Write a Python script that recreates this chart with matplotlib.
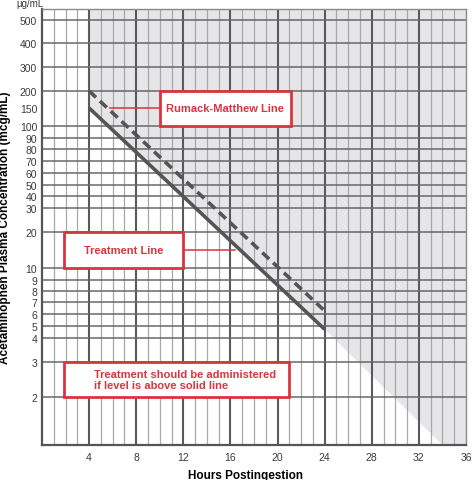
import numpy as np
import matplotlib
matplotlib.use("Agg")
import matplotlib.pyplot as plt
from matplotlib.patches import Rectangle

plt.rcParams['font.family'] = ['Liberation Sans', 'DejaVu Sans']

# ---------------- data ----------------
hour_ticks = [4, 8, 12, 16, 20, 24, 28, 32, 36]
conc_tick_labels = [2, 3, 4, 5, 6, 7, 8, 9, 10, 20, 30, 40, 50, 60, 70, 80, 90, 100, 150, 200, 300, 400, 500]
conc_grid_values = [2, 3, 4, 5, 6, 7, 8, 9, 10, 20, 30, 40, 50, 60, 70, 80, 90, 100, 200, 300, 400, 500]

treatment_hours = [4, 24]
treatment_conc = [150, 4.7]
rumack_hours = [4, 24]
rumack_conc = [200, 6.25]
shade_end_hour = 34      # where the shaded zone meets the bottom of the chart

# nomogram's (non-uniform) vertical scale: value -> position
scale_vals = [1, 2, 3, 4, 5, 6, 7, 8, 9, 10, 20, 30, 40, 50, 60, 70, 80, 90, 100, 150, 200, 300, 400, 500, 550]
scale_pos = [0, 48, 83, 107, 119, 131, 143, 154, 165, 177, 213, 237, 249, 260, 272, 284, 296, 307, 319, 337, 354, 378, 402, 425, 436]

RED = '#d8353e'
GRAYLINE = '#555555'

lv = np.log10(scale_vals)
sp = np.array(scale_pos, dtype=float)

def fwd(v):
    v = np.asarray(v, dtype=float)
    return np.interp(np.log10(np.clip(v, 1e-9, None)), lv, sp)

def inv(p):
    p = np.asarray(p, dtype=float)
    return 10 ** np.interp(p, sp, lv)

fig = plt.figure(figsize=(4.74, 4.81), dpi=100)
ax = fig.add_axes([42/474, 1-446/481, (466-42)/474, (446-10)/481])
ax.set_yscale('function', functions=(fwd, inv))
ymin, ymax = scale_vals[0], scale_vals[-1]
ax.set_xlim(0, 36)
ax.set_ylim(ymin, ymax)

# shaded zone
sx = [treatment_hours[0], 36, 36, shade_end_hour, treatment_hours[1], treatment_hours[0]]
sy = [ymax, ymax, ymin, ymin, treatment_conc[1], treatment_conc[0]]
ax.fill(sx, sy, color='#e6e6e9', lw=0, zorder=0)

# grid
for h in range(1, 36):
    if h % 4 == 0:
        ax.axvline(h, color='#5a5a5a', lw=1.5, zorder=1)
    else:
        ax.axvline(h, color='#a8a8a8', lw=0.9, zorder=1)
for v in conc_grid_values:
    ax.axhline(v, color='#686868', lw=1.1, zorder=1)

# lines
ax.plot(treatment_hours, treatment_conc, color=GRAYLINE, lw=2.6, solid_capstyle='butt', zorder=3)
ax.plot(rumack_hours, rumack_conc, color=GRAYLINE, lw=2.6, dashes=(2.6, 1.5), zorder=3)

# annotation boxes
def box(x0, x1, y0, y1):
    ax.add_patch(Rectangle((x0, y0), x1 - x0, y1 - y0, facecolor='white',
                           edgecolor=RED, lw=2.0, zorder=4))

box(10, 21.1, 101, 200)
ax.text(15.55, 150, 'Rumack-Matthew Line', color=RED, fontsize=8, fontweight='bold',
        ha='center', va='center', zorder=5)
ax.plot([5.8, 10], [150, 150], color=RED, lw=1.1, zorder=4)

box(1.9, 12, 10, 20)
ax.text(6.95, 14.2, 'Treatment Line', color=RED, fontsize=8, fontweight='bold',
        ha='center', va='center', zorder=5)
ax.plot([12, 16.4], [14.2, 14.2], color=RED, lw=1.1, zorder=4)

box(1.9, 21, 2, 3)
ax.text(4.4, 2.45, 'Treatment should be administered\nif level is above solid line', color=RED,
        fontsize=8, fontweight='bold', ha='left', va='center', linespacing=1.1, zorder=5)

# axes styling
ax.set_xticks(hour_ticks)
ax.set_xticklabels([str(h) for h in hour_ticks])
ax.set_yticks(conc_tick_labels)
ax.set_yticklabels([str(v) for v in conc_tick_labels])
ax.yaxis.set_minor_locator(matplotlib.ticker.NullLocator())
ax.tick_params(axis='both', length=0, labelsize=7.5, colors='#3a3a3a')
ax.tick_params(axis='x', pad=5)
ax.tick_params(axis='y', pad=3.5)
for s in ['top', 'right']:
    ax.spines[s].set_color('#8a8a8a')
    ax.spines[s].set_linewidth(1.0)
for s in ['left', 'bottom']:
    ax.spines[s].set_color('#555555')
    ax.spines[s].set_linewidth(1.6)
for s in ax.spines.values():
    s.set_zorder(6)

ax.set_xlabel('Hours Postingestion', fontsize=8.5, fontweight='bold')
ax.xaxis.set_label_coords(0.479, -0.055)
ax.set_ylabel('Acetaminophen Plasma Concentration (mcg/mL)', fontsize=8.5, fontweight='bold')
ax.yaxis.set_label_coords(-0.072, 0.5)

ax.text(0.003, 1.003, '\u00b5g/mL', transform=ax.transAxes, ha='right', va='bottom',
        fontsize=7, color='#3a3a3a')

fig.savefig('out.png', dpi=100)
